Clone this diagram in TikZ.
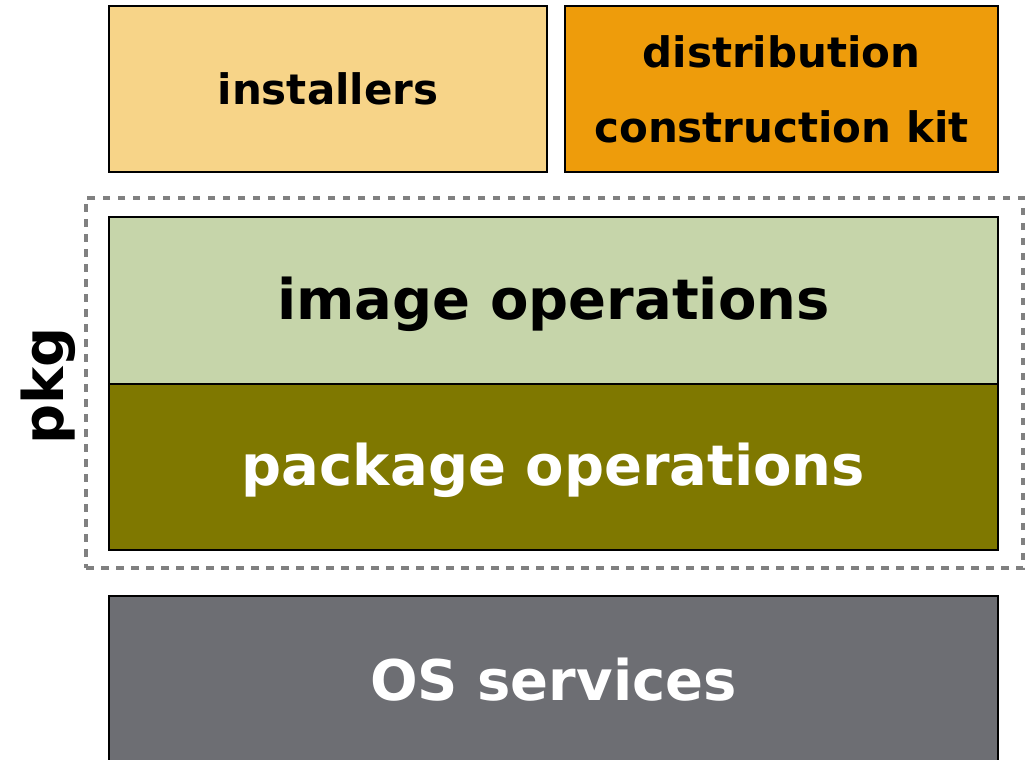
\documentclass[tikz,border=0pt]{standalone}
\usepackage{fontspec}
\setmainfont{DejaVu Sans}
\definecolor{instc}{HTML}{F7D488}
\definecolor{dckc}{HTML}{EE9C0B}
\definecolor{imgc}{HTML}{C6D5AA}
\definecolor{pkgc}{HTML}{7F7800}
\definecolor{osc}{HTML}{6D6E73}
\definecolor{dashc}{HTML}{808080}
\begin{document}
\begin{tikzpicture}[x=1pt,y=1pt,
  layer/.style={draw=black, line width=1.5pt, rectangle, inner sep=0pt, align=center, font=\bfseries},
  bigtext/.style={font=\fontsize{56}{60}\selectfont\bfseries},
  smalltext/.style={font=\fontsize{42}{75}\selectfont\bfseries},
  frame/.style={draw=dashc, line width=3.8pt, dash pattern=on 7.5pt off 7.5pt}]
\useasboundingbox (0,0) rectangle (1028,-760);
\clip (0,0) rectangle (1028,-760);
\node[layer, smalltext, fill=instc, minimum width=438, minimum height=166] (inst) at (328,-89) {installers};
\node[layer, smalltext, fill=dckc, minimum width=433, minimum height=166] (dck) at (781.5,-89) {distribution\\construction kit};
\node[layer, fill=imgc, minimum width=889, minimum height=167] (img) at (553.5,-300.5) {};
\node[bigtext] (imgtext) at ([yshift=-4]img.center) {image operations};
\node[layer, fill=pkgc, minimum width=889, minimum height=166] (pkgops) at (553.5,-467) {};
\node[bigtext, text=white] (pkgtext) at ([yshift=-3]pkgops.center) {package operations};
\node[layer, bigtext, fill=osc, text=white, minimum width=889, minimum height=167] (os) at (553.5,-679.5) {OS services};
\node[frame, rectangle, minimum width=937, minimum height=370, inner sep=0pt] (pkgframe) at (554.5,-383) {};
\node[font=\fontsize{56}{60}\selectfont\bfseries, rotate=90, inner sep=0pt] (pkglabel) at (48,-386) {pkg};
\end{tikzpicture}
\end{document}
